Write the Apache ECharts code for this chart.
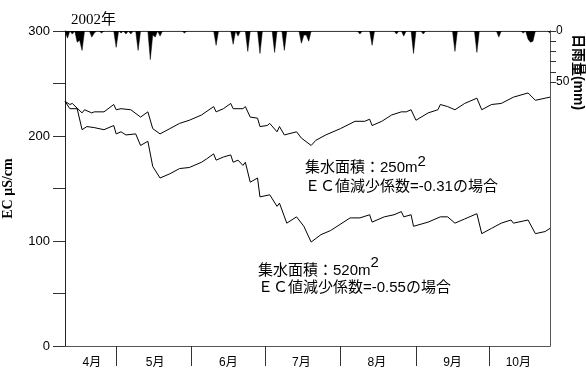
<!DOCTYPE html>
<html><head><meta charset="utf-8">
<script src="https://cdn.jsdelivr.net/npm/echarts@6/dist/echarts.min.js"></script>
<style>html,body{margin:0;padding:0;background:#fff}#c{width:586px;height:377px}</style>
</head><body><div id="c"></div>
<script>
// ---- categories: daily, 2002-04-10 .. 2002-10-26 ----
const monthLengths = {4: 30, 5: 31, 6: 30, 7: 31, 8: 31, 9: 30, 10: 31};
const firstDay = [4, 10];
const lastDay = [10, 26];
const monthLabels = ['4月', '5月', '6月', '7月', '8月', '9月', '10月'];
const monthLabelDays = ['4/21', '5/17', '6/16', '7/16', '8/16', '9/16', '10/13'];
const monthStartDays = ['5/1', '6/1', '7/1', '8/1', '9/1', '10/1'];

// ---- EC, catchment 250 m2 (coef -0.31) ----
const ec250Dates = ['4/10','4/12','4/13','4/17','4/18','4/21','4/22','4/26','4/30','5/1','5/3','5/7','5/11','5/14','5/16','5/19','5/23','5/27','5/31','6/5','6/10','6/11','6/14','6/17','6/18','6/22','6/23','6/25','6/28','6/29','7/2','7/3','7/6','7/7','7/9','7/14','7/16','7/20','7/22','7/26','8/1','8/7','8/11','8/13','8/14','8/18','8/22','8/26','8/28','8/30','9/1','9/6','9/10','9/11','9/14','9/17','9/21','9/26','9/28','10/2','10/6','10/11','10/17','10/20','10/24','10/26'];
const ec250Values = [233,230,231,222,225,222,223,223,230,225,226,225,218,223,207,202,207,212,215,220,228,223,226,231,226,226,228,218,217,209,210,212,204,209,201,204,198,191,196,201,207,214,214,216,210,214,220,223,223,225,215,222,225,230,228,225,231,236,225,230,231,237,241,234,236,237];

// ---- EC, catchment 520 m2 (coef -0.55) ----
const ec520Dates = ['4/10','4/12','4/15','4/17','4/19','4/22','4/26','4/30','5/1','5/3','5/5','5/9','5/11','5/14','5/16','5/19','5/23','5/27','5/31','6/5','6/7','6/10','6/11','6/14','6/17','6/18','6/20','6/22','6/23','6/25','6/28','6/29','7/3','7/6','7/7','7/10','7/14','7/17','7/20','7/24','7/28','8/5','8/9','8/13','8/14','8/19','8/23','8/26','8/27','8/30','8/31','9/6','9/11','9/14','9/17','9/21','9/26','9/28','10/2','10/6','10/10','10/11','10/17','10/20','10/24','10/26'];
const ec520Values = [233,226,226,206,209,208,206,210,202,204,201,202,191,195,171,160,164,169,170,175,178,183,177,180,182,175,177,172,175,156,160,142,144,133,136,117,123,114,99,106,110,122,122,125,118,123,125,128,123,125,114,118,123,123,117,121,126,107,112,117,120,117,120,107,109,112];

// ---- daily rainfall (mm), days not listed had no rain ----
const rainDates = ['4/11','4/13','4/15','4/16','4/17','4/21','4/22','4/25','5/1','5/3','5/5','5/7','5/10','5/15','5/16','5/17','5/19','5/29','6/11','6/18','6/20','6/24','6/29','7/5','7/9','7/16','7/17','7/18','7/19','8/9','8/14','8/24','8/27','8/31','9/4','9/17','9/26','10/5','10/15','10/17','10/18','10/19','10/26'];
const rainValues = [7,3,11,9,19,6,2,2,16,2,3,3,19,28,4,6,5,2,14,13,5,20,22,21,19,12,4,4,10,3,14,3,5,22,3,20,21,6,2,8,11,10,2];

// ---- axis ticks ----
const ecTicks = [0, 50, 100, 150, 200, 250, 300];
const ecTickLabels = ['0', '', '100', '', '200', '', '300'];
const rainTickLabels = {0: '0', 50: '50'};

const categories = [];
(function () {
  let m = firstDay[0], d = firstDay[1];
  while (true) {
    categories.push(m + '/' + d);
    if (m === lastDay[0] && d === lastDay[1]) break;
    d++;
    if (d > monthLengths[m]) { d = 1; m++; }
  }
})();

function daily(dates, values, fill) {
  const arr = categories.map(() => fill);
  dates.forEach((dt, k) => { arr[categories.indexOf(dt)] = values[k]; });
  return arr;
}

const sans = '"Liberation Sans", Arial, "Noto Sans CJK JP", sans-serif';
const serif = '"Liberation Serif", "Times New Roman", "Noto Sans CJK JP", serif';
const axisGray = '#555';

const chart = echarts.init(document.getElementById('c'), null, {renderer: 'canvas'});
chart.setOption({
  animation: false,
  backgroundColor: '#fff',
  title: {
    text: '2002年', left: 66, top: 8,
    textStyle: {fontFamily: serif, fontWeight: 'normal', fontSize: 15, color: '#000'}
  },
  grid: [
    {left: 65, right: 36, top: 31, bottom: 31, containLabel: false, outerBoundsMode: 'none'},
    {left: 65, right: 36, top: 31, height: 51, containLabel: false, outerBoundsMode: 'none'}
  ],
  xAxis: [
    {
      type: 'category', gridIndex: 0, data: categories, boundaryGap: false,
      axisLine: {lineStyle: {color: axisGray, width: 1}},
      axisTick: {
        interval: (i, v) => monthStartDays.includes(v),
        length: 20, lineStyle: {color: '#333'}
      },
      axisLabel: {
        interval: (i, v) => monthLabelDays.includes(v),
        formatter: v => monthLabels[monthLabelDays.indexOf(v)],
        margin: 11, fontSize: 12, fontFamily: sans, color: '#000'
      },
      splitLine: {show: false}
    },
    {
      type: 'category', gridIndex: 1, data: categories, boundaryGap: false, position: 'top',
      axisLine: {lineStyle: {color: axisGray, width: 1}},
      axisTick: {show: false}, axisLabel: {show: false}, splitLine: {show: false}
    }
  ],
  yAxis: [
    {
      type: 'value', gridIndex: 0, min: ecTicks[0], max: ecTicks[ecTicks.length - 1], interval: 50,
      name: 'EC μS/cm', nameLocation: 'middle', nameGap: 50,
      nameTextStyle: {fontFamily: serif, fontWeight: 'bold', fontSize: 14, color: '#000'},
      axisLine: {show: true, lineStyle: {color: '#222'}},
      axisTick: {show: true, inside: false, length: 12, lineStyle: {color: '#333'}},
      axisLabel: {
        formatter: v => ecTickLabels[ecTicks.indexOf(v)],
        margin: 15, fontSize: 13, fontFamily: sans, color: '#000'
      },
      splitLine: {show: false}
    },
    {
      type: 'value', gridIndex: 0, position: 'right', min: 0, max: 300,
      axisLine: {show: true, lineStyle: {color: axisGray}},
      axisTick: {show: false}, axisLabel: {show: false}, splitLine: {show: false}
    },
    {
      type: 'value', gridIndex: 1, position: 'right', min: 0, max: 50, interval: 10, inverse: true,
      axisLine: {show: true, lineStyle: {color: axisGray}},
      axisTick: {show: true, inside: false, length: 6, lineStyle: {color: '#333'}},
      axisLabel: {
        formatter: v => rainTickLabels[v] !== undefined ? rainTickLabels[v] : '',
        margin: 6, fontSize: 12, fontFamily: sans, color: '#000'
      },
      splitLine: {show: false}
    }
  ],
  series: [
    {
      name: '250m2', type: 'line', xAxisIndex: 0, yAxisIndex: 0,
      data: daily(ec250Dates, ec250Values, null), connectNulls: true,
      showSymbol: false, symbol: 'none',
      lineStyle: {color: '#000', width: 1}
    },
    {
      name: '520m2', type: 'line', xAxisIndex: 0, yAxisIndex: 0,
      data: daily(ec520Dates, ec520Values, null), connectNulls: true,
      showSymbol: false, symbol: 'none',
      lineStyle: {color: '#000', width: 1}
    },
    {
      name: 'rain', type: 'line', xAxisIndex: 1, yAxisIndex: 2,
      data: daily(rainDates, rainValues, 0),
      showSymbol: false, symbol: 'none',
      lineStyle: {color: '#000', width: 0.5},
      areaStyle: {color: '#000', opacity: 1}
    }
  ],
  graphic: [
    {
      type: 'text', x: 578, y: 72, rotation: -Math.PI / 2,
      style: {
        text: '日雨量(mm)', fontFamily: sans, fontWeight: 'bold', fontSize: 14,
        fill: '#000', align: 'center', verticalAlign: 'middle'
      }
    },
    {
      type: 'text', x: 305, y: 154,
      style: {
        text: '{a|集水面積：250m}{s|2}\n{b|ＥＣ値減少係数=-0.31の場合}',
        fill: '#000',
        rich: {
          a: {fontFamily: sans, fontSize: 15, lineHeight: 21, verticalAlign: 'bottom', fill: '#000'},
          s: {fontFamily: sans, fontSize: 15, lineHeight: 14, verticalAlign: 'top', fill: '#000'},
          b: {fontFamily: sans, fontSize: 15, lineHeight: 24, fill: '#000'}
        }
      }
    },
    {
      type: 'text', x: 258, y: 255,
      style: {
        text: '{a|集水面積：520m}{s|2}\n{b|ＥＣ値減少係数=-0.55の場合}',
        fill: '#000',
        rich: {
          a: {fontFamily: sans, fontSize: 15, lineHeight: 23, verticalAlign: 'bottom', fill: '#000'},
          s: {fontFamily: sans, fontSize: 15, lineHeight: 14, verticalAlign: 'top', fill: '#000'},
          b: {fontFamily: sans, fontSize: 15, lineHeight: 20, fill: '#000'}
        }
      }
    }
  ]
});
</script>
</body></html>
